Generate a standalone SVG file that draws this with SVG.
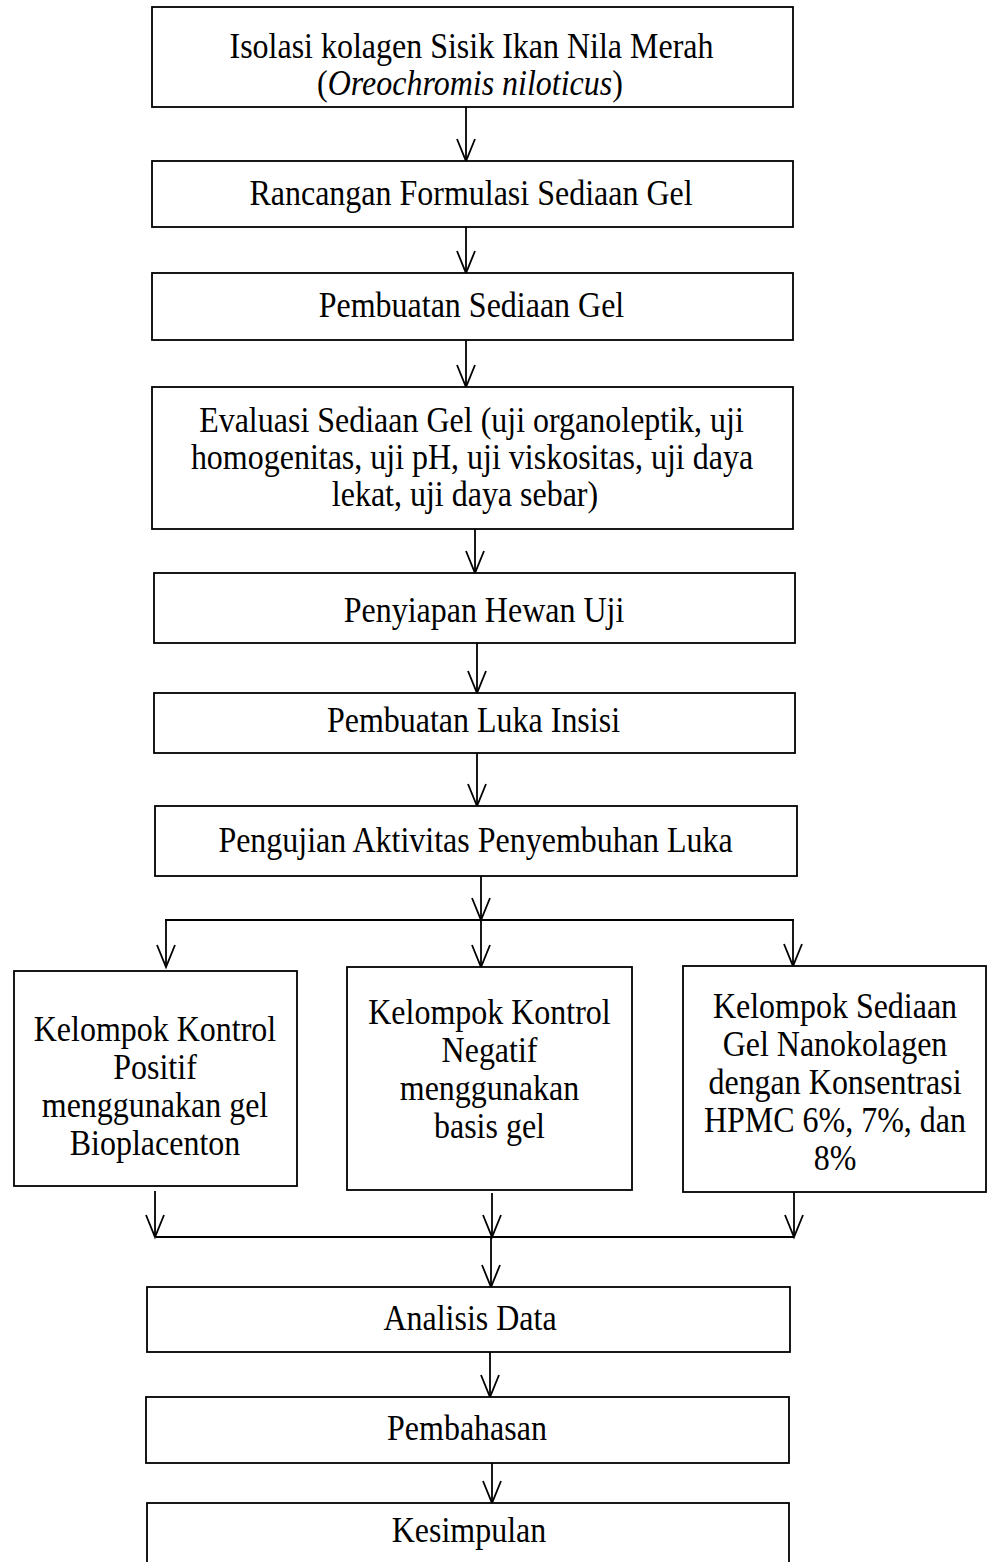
<svg xmlns="http://www.w3.org/2000/svg" width="987" height="1562" viewBox="0 0 987 1562">
<style>
  .box { fill: #ffffff; stroke: #000000; stroke-width: 1.8; }
  .t { font-family: "Liberation Serif", "Times New Roman", serif; font-size: 35px; fill: #000000; text-anchor: middle; transform-box: fill-box; transform-origin: center; transform: scaleX(0.914); }
  .c { fill: none; stroke: #000000; stroke-width: 1.8; }
  .a { fill: none; stroke: #000000; stroke-width: 1.8; marker-end: url(#arr); }
</style>
<defs>
  <marker id="arr" markerUnits="userSpaceOnUse" markerWidth="30" markerHeight="30" refX="0" refY="0" orient="auto" overflow="visible" viewBox="-30 -15 30 30">
    <path d="M -22 -9 L 0 0 L -22 9" fill="none" stroke="#000000" stroke-width="1.8"/>
  </marker>
</defs>
<rect width="987" height="1562" fill="#ffffff"/>
<g id="connectors">
  <line class="a" x1="466" y1="107" x2="466" y2="161"/>
  <line class="a" x1="466" y1="227" x2="466" y2="273"/>
  <line class="a" x1="466" y1="340" x2="466" y2="387"/>
  <line class="a" x1="475" y1="529" x2="475" y2="573"/>
  <line class="a" x1="477" y1="643" x2="477" y2="693"/>
  <line class="a" x1="477" y1="753" x2="477" y2="806"/>
  <line class="a" x1="481" y1="876" x2="481" y2="920"/>
  <line class="c" x1="165" y1="920" x2="794" y2="920"/>
  <line class="a" x1="166" y1="920" x2="166" y2="967"/>
  <line class="a" x1="481" y1="920" x2="481" y2="967"/>
  <line class="a" x1="793" y1="920" x2="793" y2="966"/>
  <line class="a" x1="155" y1="1191" x2="155" y2="1237"/>
  <line class="a" x1="492" y1="1193" x2="492" y2="1237"/>
  <line class="a" x1="794" y1="1192" x2="794" y2="1237"/>
  <line class="c" x1="156" y1="1237" x2="794" y2="1237"/>
  <line class="a" x1="491" y1="1237" x2="491" y2="1287"/>
  <line class="a" x1="490" y1="1352" x2="490" y2="1397"/>
  <line class="a" x1="492" y1="1463" x2="492" y2="1503"/>
</g>
<g id="n1">
  <rect class="box" x="152" y="7" width="641" height="100"/>
  <text class="t" x="471.5" y="58">Isolasi kolagen Sisik Ikan Nila Merah</text>
  <text class="t" x="470" y="95">(<tspan font-style="italic">Oreochromis niloticus</tspan>)</text>
</g>
<g id="n2">
  <rect class="box" x="152" y="161" width="641" height="66"/>
  <text class="t" x="471" y="205">Rancangan Formulasi Sediaan Gel</text>
</g>
<g id="n3">
  <rect class="box" x="152" y="273" width="641" height="67"/>
  <text class="t" x="471.5" y="317">Pembuatan Sediaan Gel</text>
</g>
<g id="n4">
  <rect class="box" x="152" y="387" width="641" height="142"/>
  <text class="t" x="471.5" y="432">Evaluasi Sediaan Gel (uji organoleptik, uji</text>
  <text class="t" x="472" y="469">homogenitas, uji pH, uji viskositas, uji daya</text>
  <text class="t" x="465" y="506">lekat, uji daya sebar)</text>
</g>
<g id="n5">
  <rect class="box" x="154" y="573" width="641" height="70"/>
  <text class="t" x="484" y="622">Penyiapan Hewan Uji</text>
</g>
<g id="n6">
  <rect class="box" x="154" y="693" width="641" height="60"/>
  <text class="t" x="473.5" y="732">Pembuatan Luka Insisi</text>
</g>
<g id="n7">
  <rect class="box" x="155" y="806" width="642" height="70"/>
  <text class="t" x="475.5" y="852">Pengujian Aktivitas Penyembuhan Luka</text>
</g>
<g id="n8">
  <rect class="box" x="14" y="971" width="283" height="215"/>
  <text class="t" x="155" y="1041">Kelompok Kontrol</text>
  <text class="t" x="155" y="1079">Positif</text>
  <text class="t" x="155" y="1117">menggunakan gel</text>
  <text class="t" x="155" y="1155">Bioplacenton</text>
</g>
<g id="n9">
  <rect class="box" x="347" y="967" width="285" height="223"/>
  <text class="t" x="489.5" y="1024">Kelompok Kontrol</text>
  <text class="t" x="489.5" y="1062">Negatif</text>
  <text class="t" x="489.5" y="1100">menggunakan</text>
  <text class="t" x="489.5" y="1138">basis gel</text>
</g>
<g id="n10">
  <rect class="box" x="683" y="966" width="303" height="226"/>
  <text class="t" x="835" y="1018">Kelompok Sediaan</text>
  <text class="t" x="835" y="1056">Gel Nanokolagen</text>
  <text class="t" x="835" y="1094">dengan Konsentrasi</text>
  <text class="t" x="835" y="1132">HPMC 6%, 7%, dan</text>
  <text class="t" x="835" y="1170">8%</text>
</g>
<g id="n11">
  <rect class="box" x="147" y="1287" width="643" height="65"/>
  <text class="t" x="470" y="1330">Analisis Data</text>
</g>
<g id="n12">
  <rect class="box" x="146" y="1397" width="643" height="66"/>
  <text class="t" x="467" y="1440">Pembahasan</text>
</g>
<g id="n13">
  <rect class="box" x="147" y="1503" width="642" height="80"/>
  <text class="t" x="469" y="1542">Kesimpulan</text>
</g>
</svg>
